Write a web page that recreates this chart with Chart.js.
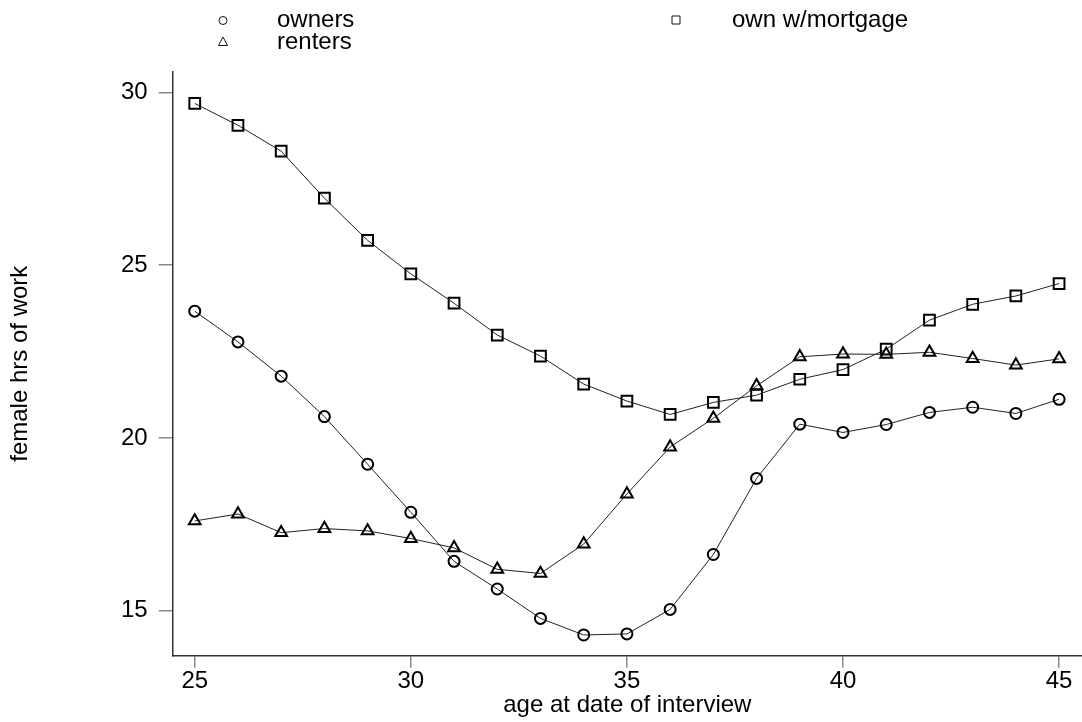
<!DOCTYPE html>
<html lang="en">
  <head>
    <meta charset="UTF-8" />
    <title>female hrs of work by age</title>
    <script src="https://cdn.jsdelivr.net/npm/chart.js@4.4.0/dist/chart.umd.min.js"></script>
    <style>
      body {
        margin: 0;
        background: #fff;
      }
      #wrap {
        width: 1082px;
        height: 722px;
      }
    </style>
  </head>
  <body>
    <div id="wrap">
      <canvas id="hrsChart" width="1082" height="722"></canvas>
    </div>

    <script>
      // values
      const ages = [25, 26, 27, 28, 29, 30, 31, 32, 33, 34, 35, 36, 37, 38, 39, 40, 41, 42, 43, 44, 45];
      const owners = [23.67, 22.78, 21.79, 20.62, 19.24, 17.85, 16.43, 15.63, 14.78, 14.3, 14.33,
        15.04, 16.63, 18.83, 20.4, 20.16, 20.39, 20.74, 20.89, 20.71, 21.12];
      const renters = [17.6, 17.8, 17.26, 17.38, 17.31, 17.09, 16.82, 16.2, 16.08, 16.93, 18.38,
        19.74, 20.57, 21.51, 22.35, 22.43, 22.42, 22.48, 22.3, 22.11, 22.29];
      const mortgage = [29.68, 29.05, 28.3, 26.94, 25.72, 24.75, 23.9, 22.98, 22.37, 21.56, 21.07,
        20.68, 21.03, 21.24, 21.7, 21.98, 22.57, 23.41, 23.87, 24.11, 24.47];
      const xTicks = [25, 30, 35, 40, 45];
      const yTicks = [15, 20, 25, 30];

      const FONT = "'Liberation Sans', Arial, Helvetica, sans-serif";

      function series(label, values, style, radius) {
        return {
          label: label,
          data: ages.map((a, i) => ({ x: a, y: values[i] })),
          borderColor: "#222",
          borderWidth: 1,
          tension: 0,
          pointStyle: style,
          pointRadius: radius,
          pointHoverRadius: radius,
          pointBorderColor: "#000",
          pointBorderWidth: 2,
          pointBackgroundColor: "rgba(0,0,0,0)",
        };
      }

      // legend in two columns, drawn by hand like the original
      const legendPlugin = {
        id: "handLegend",
        afterDraw(chart) {
          const ctx = chart.ctx;
          const items = [
            { text: chart.data.datasets[0].label, shape: "circle", sx: 223, sy: 20.5, tx: 277, ty: 27 },
            { text: chart.data.datasets[1].label, shape: "triangle", sx: 223, sy: 42, tx: 277, ty: 49 },
            { text: chart.data.datasets[2].label, shape: "square", sx: 676, sy: 20, tx: 732, ty: 27 },
          ];
          ctx.save();
          ctx.strokeStyle = "#111";
          ctx.lineWidth = 1;
          ctx.fillStyle = "#000";
          ctx.font = "24px " + FONT;
          ctx.textBaseline = "alphabetic";
          ctx.textAlign = "left";
          items.forEach((it) => {
            ctx.beginPath();
            if (it.shape === "circle") {
              ctx.arc(it.sx, it.sy, 4, 0, Math.PI * 2);
            } else if (it.shape === "square") {
              ctx.rect(it.sx - 4, it.sy - 4, 8, 8);
            } else {
              ctx.moveTo(it.sx, it.sy - 5);
              ctx.lineTo(it.sx + 4.5, it.sy + 3.5);
              ctx.lineTo(it.sx - 4.5, it.sy + 3.5);
              ctx.closePath();
            }
            ctx.stroke();
            ctx.fillText(it.text, it.tx, it.ty);
          });
          ctx.restore();
        },
      };

      function init() {
        const ctx = document.getElementById("hrsChart").getContext("2d");
        new Chart(ctx, {
          type: "line",
          data: {
            datasets: [
              series("owners", owners, "circle", 5.5),
              series("renters", renters, "triangle", 6.8),
              series("own w/mortgage", mortgage, "rect", 7.6),
            ],
          },
          options: {
            responsive: false,
            animation: false,
            devicePixelRatio: 1,
            layout: {
              autoPadding: false,
              padding: { left: 6, top: 71.7, right: 0, bottom: 0 },
            },
            plugins: {
              legend: { display: false },
              tooltip: { enabled: false },
            },
            scales: {
              x: {
                type: "linear",
                min: 24.49,
                max: 45.53,
                afterBuildTicks: (s) => {
                  s.ticks = xTicks.map((v) => ({ value: v }));
                },
                afterFit: (s) => {
                  s.height = 66.3;
                  s.paddingLeft = 0;
                  s.paddingRight = 0;
                },
                border: { display: true, color: "#333", width: 1.5 },
                grid: {
                  display: true,
                  drawOnChartArea: false,
                  drawTicks: true,
                  tickLength: 12,
                  color: "#888",
                  lineWidth: 1.5,
                },
                ticks: {
                  color: "#000",
                  padding: 2,
                  maxRotation: 0,
                  font: { family: FONT, size: 24, lineHeight: 1 },
                },
                title: {
                  display: true,
                  text: "age at date of interview",
                  color: "#000",
                  padding: { top: 0, bottom: 2 },
                  font: { family: FONT, size: 24, lineHeight: 1.2 },
                },
              },
              y: {
                type: "linear",
                min: 13.7,
                max: 30.6,
                afterBuildTicks: (s) => {
                  s.ticks = yTicks.map((v) => ({ value: v }));
                },
                afterFit: (s) => {
                  s.width = 166.7;
                  s.paddingTop = 0;
                  s.paddingBottom = 0;
                },
                border: { display: true, color: "#333", width: 1.5 },
                grid: {
                  display: true,
                  drawOnChartArea: false,
                  drawTicks: true,
                  tickLength: 14,
                  color: "#888",
                  lineWidth: 1.5,
                },
                ticks: {
                  color: "#000",
                  padding: 11,
                  font: { family: FONT, size: 24, lineHeight: 1.2 },
                },
                title: {
                  display: true,
                  text: "female hrs of work",
                  color: "#000",
                  padding: { top: 0, bottom: 0 },
                  font: { family: FONT, size: 24, lineHeight: 1.2 },
                },
              },
            },
          },
          plugins: [legendPlugin],
        });
      }

      window.onload = init;
    </script>
  </body>
</html>
